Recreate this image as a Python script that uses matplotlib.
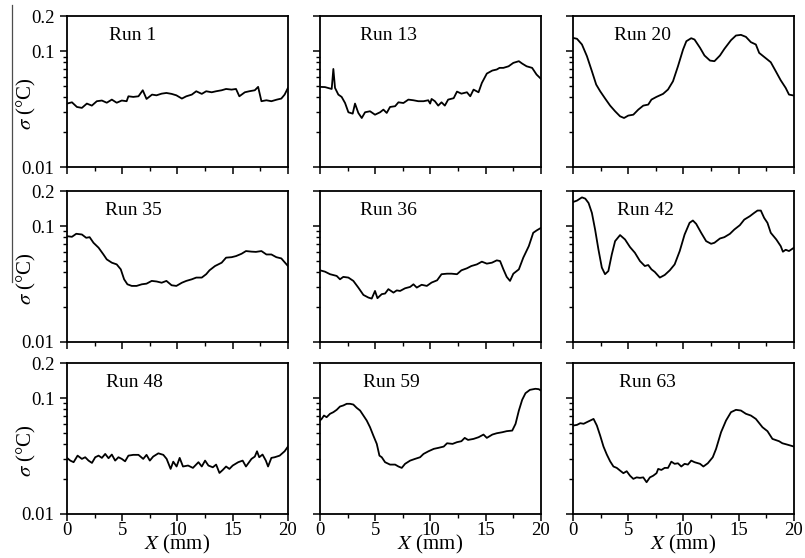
import matplotlib
matplotlib.use("Agg")
import matplotlib.pyplot as plt
from matplotlib.lines import Line2D
from matplotlib.ticker import FixedLocator, NullFormatter, FixedFormatter

plt.rcParams["font.family"] = ["Liberation Serif", "DejaVu Serif"]
plt.rcParams["mathtext.fontset"] = "stix"

# --- data (x in mm, sigma in degC) ---
run1_x = [0, 0.45, 0.9, 1.35, 1.8, 2.25, 2.7, 3.16, 3.6, 4.06, 4.5, 4.96, 5.4, 5.56, 6.0, 6.47,
          6.86, 7.2, 7.7, 8.1, 8.57, 9.0, 9.47, 9.9, 10.4, 10.8, 11.3, 11.7, 12.2, 12.6, 13.1,
          13.5, 14.0, 14.4, 14.9, 15.3, 15.6, 16.1, 16.5, 17.0, 17.3, 17.6, 18.05, 18.5, 19.0,
          19.4, 19.7, 20]
run1_y = [0.0353, 0.0362, 0.033, 0.0324, 0.0353, 0.0339, 0.037, 0.0375, 0.0359, 0.0382, 0.0359,
          0.0375, 0.037, 0.0408, 0.0403, 0.0408, 0.046, 0.0387, 0.0422, 0.0416, 0.043, 0.0436,
          0.0428, 0.0416, 0.039, 0.0408, 0.0422, 0.0451, 0.0428, 0.0451, 0.0442, 0.0451, 0.046,
          0.0472, 0.0466, 0.0472, 0.0408, 0.0442, 0.0451, 0.046, 0.0492, 0.037, 0.0377, 0.037,
          0.0382, 0.039, 0.0422, 0.0482]

run13_x = [0, 0.45, 1.06, 1.21, 1.36, 1.66, 1.96, 2.27, 2.57, 2.96, 3.17, 3.47, 3.78, 4.08, 4.53,
           4.98, 5.44, 5.74, 6.04, 6.34, 6.8, 7.1, 7.55, 8.0, 8.46, 8.9, 9.37, 9.8, 9.97, 10.1,
           10.4, 10.7, 11.0, 11.3, 11.6, 12.1, 12.4, 12.8, 13.3, 13.6, 13.9, 14.35, 14.65, 15.1,
           15.6, 16.0, 16.25, 16.6, 17.07, 17.5, 18.0, 18.3, 18.7, 19.2, 19.6, 20]
run13_y = [0.0492, 0.049, 0.0472, 0.0703, 0.0482, 0.0422, 0.0403, 0.0357, 0.0297, 0.0289, 0.0353,
           0.0293, 0.0265, 0.0297, 0.0303, 0.0283, 0.0297, 0.0313, 0.0293, 0.033, 0.0335, 0.0362,
           0.0357, 0.0382, 0.0377, 0.037, 0.037, 0.0377, 0.0353, 0.0387, 0.037, 0.0339, 0.0362,
           0.0339, 0.0382, 0.0393, 0.0448, 0.043, 0.0442, 0.0408, 0.0466, 0.0442, 0.0532, 0.0641,
           0.0681, 0.0695, 0.0718, 0.0718, 0.0741, 0.0793, 0.082, 0.0782, 0.0741, 0.0718, 0.0629,
           0.0577]

run20_x = [0, 0.36, 0.81, 1.26, 1.71, 2.1, 2.46, 2.91, 3.36, 3.81, 4.26, 4.62, 5.0, 5.46, 5.91,
           6.36, 6.81, 7.1, 7.55, 8.15, 8.6, 9.05, 9.5, 9.96, 10.26, 10.7, 11.0, 11.5, 11.9, 12.4,
           12.8, 13.3, 13.7, 14.3, 14.75, 15.2, 15.65, 16.1, 16.55, 16.85, 17.3, 17.6, 17.9, 18.35,
           18.8, 19.25, 19.55, 20]
run20_y = [0.1303, 0.128, 0.1143, 0.0906, 0.0672, 0.0515, 0.0451, 0.039, 0.0339, 0.0303, 0.0274,
           0.0265, 0.0278, 0.0283, 0.0313, 0.0339, 0.0346, 0.0382, 0.0403, 0.0428, 0.0467, 0.055,
           0.0741, 0.1033, 0.122, 0.1295, 0.1261, 0.1069, 0.0918, 0.083, 0.082, 0.0918, 0.1047,
           0.1245, 0.1366, 0.1384, 0.133, 0.1197, 0.1143, 0.0967, 0.0893, 0.0847, 0.0803, 0.0672,
           0.0561, 0.0482, 0.0422, 0.0414]

run35_x = [0, 0.45, 0.84, 1.35, 1.74, 2.05, 2.4, 2.86, 3.3, 3.6, 4.06, 4.5, 4.87, 5.17, 5.47,
           5.86, 6.3, 6.77, 7.2, 7.67, 8.12, 8.57, 9.0, 9.47, 9.9, 10.4, 10.8, 11.3, 11.7, 12.2,
           12.6, 12.9, 13.4, 14.0, 14.4, 14.9, 15.3, 15.8, 16.2, 16.7, 17.1, 17.6, 18.05, 18.5,
           18.95, 19.4, 20]
run35_y = [0.082, 0.081, 0.086, 0.0848, 0.0794, 0.0804, 0.0719, 0.0652, 0.057, 0.0517, 0.0484,
           0.0468, 0.0424, 0.0348, 0.0315, 0.0305, 0.0305, 0.0315, 0.0319, 0.0337, 0.0333, 0.0325,
           0.0337, 0.0309, 0.0305, 0.0325, 0.0337, 0.0348, 0.036, 0.036, 0.0385, 0.0416, 0.0453,
           0.0484, 0.0535, 0.054, 0.0552, 0.0578, 0.061, 0.0603, 0.06, 0.061, 0.057, 0.057, 0.054,
           0.0527, 0.0453]

run36_x = [0, 0.45, 0.91, 1.51, 1.81, 2.11, 2.57, 3.02, 3.47, 3.93, 4.38, 4.68, 4.98, 5.2, 5.59,
           5.89, 6.19, 6.65, 6.95, 7.25, 7.7, 8.16, 8.46, 8.76, 9.2, 9.67, 10.1, 10.6, 11.0, 11.5,
           11.9, 12.4, 12.8, 13.3, 13.7, 14.2, 14.65, 15.1, 15.56, 16.0, 16.3, 16.6, 16.9, 17.2,
           17.5, 18.0, 18.4, 18.9, 19.3, 19.6, 20]
run36_y = [0.0416, 0.0405, 0.0385, 0.0372, 0.0348, 0.0365, 0.036, 0.0337, 0.0295, 0.0255, 0.0242,
           0.0237, 0.0276, 0.0239, 0.0259, 0.0262, 0.0286, 0.0267, 0.0279, 0.0276, 0.0291, 0.0299,
           0.0315, 0.0295, 0.0312, 0.0305, 0.0326, 0.0341, 0.0385, 0.0389, 0.0389, 0.0385, 0.0416,
           0.0433, 0.0453, 0.0468, 0.0494, 0.0475, 0.0484, 0.0507, 0.05, 0.0424, 0.0365, 0.0337,
           0.0389, 0.0424, 0.0535, 0.0673, 0.0877, 0.0918, 0.0967]

run42_x = [0, 0.36, 0.81, 1.11, 1.41, 1.71, 2.0, 2.3, 2.61, 2.9, 3.2, 3.51, 3.81, 4.26, 4.71,
           5.16, 5.6, 6.06, 6.5, 6.81, 7.1, 7.4, 7.86, 8.3, 8.76, 9.2, 9.66, 10.1, 10.55, 10.85,
           11.15, 11.6, 12.05, 12.5, 12.8, 13.3, 13.7, 14.2, 14.6, 15.1, 15.5, 16.0, 16.4, 16.7,
           17.0, 17.3, 17.6, 17.9, 18.4, 18.8, 19.0, 19.25, 19.55, 20]
run42_y = [0.1618, 0.1663, 0.1774, 0.173, 0.1585, 0.1303, 0.0936, 0.0631, 0.0439, 0.0385, 0.041,
           0.057, 0.0743, 0.0838, 0.0768, 0.066, 0.059, 0.05, 0.0453, 0.0462, 0.0424, 0.0403,
           0.036, 0.0379, 0.0416, 0.0468, 0.061, 0.0847, 0.1069, 0.112, 0.1047, 0.0877, 0.0743,
           0.0705, 0.0719, 0.0783, 0.0804, 0.0859, 0.0936, 0.102, 0.114, 0.1219, 0.1303, 0.1365,
           0.1365, 0.118, 0.1069, 0.0877, 0.0768, 0.0673, 0.0602, 0.0626, 0.061, 0.0652]

run48_x = [0, 0.3, 0.6, 0.96, 1.35, 1.65, 1.95, 2.26, 2.56, 2.86, 3.16, 3.46, 3.76, 4.06, 4.36,
           4.66, 4.96, 5.26, 5.56, 6.0, 6.47, 6.9, 7.2, 7.5, 7.8, 8.27, 8.72, 9.02, 9.38, 9.62,
           9.92, 10.2, 10.5, 10.96, 11.4, 11.9, 12.2, 12.5, 12.8, 13.2, 13.5, 13.8, 14.1, 14.4,
           14.7, 15.0, 15.5, 15.9, 16.2, 16.7, 17.0, 17.2, 17.4, 17.7, 18.0, 18.2, 18.5, 18.8,
           19.25, 19.7, 20]
run48_y = [0.0305, 0.0289, 0.028, 0.0319, 0.0299, 0.0309, 0.0289, 0.0276, 0.0309, 0.0319, 0.0305,
           0.033, 0.0303, 0.0326, 0.0289, 0.0309, 0.0299, 0.0285, 0.0319, 0.0324, 0.0324, 0.0299,
           0.0324, 0.0289, 0.0313, 0.0334, 0.0324, 0.0299, 0.0245, 0.0283, 0.0257, 0.0305, 0.0257,
           0.0262, 0.025, 0.028, 0.0257, 0.0289, 0.0262, 0.0253, 0.0267, 0.0226, 0.024, 0.0257,
           0.0245, 0.0262, 0.028, 0.0289, 0.0257, 0.0299, 0.0313, 0.0348, 0.0309, 0.0326, 0.0289,
           0.0257, 0.0305, 0.0309, 0.0319, 0.0348, 0.0382]

run59_x = [0, 0.15, 0.36, 0.6, 0.91, 1.21, 1.51, 1.81, 2.11, 2.42, 2.72, 3.02, 3.32, 3.63, 3.93,
           4.23, 4.53, 4.83, 5.14, 5.38, 5.59, 5.89, 6.34, 6.8, 7.1, 7.4, 7.7, 8.16, 8.6, 9.06,
           9.37, 9.82, 10.3, 10.7, 11.2, 11.5, 12.0, 12.4, 12.8, 13.1, 13.4, 13.9, 14.35, 14.8,
           15.1, 15.6, 16.0, 16.5, 16.9, 17.4, 17.7, 18.0, 18.3, 18.6, 19.0, 19.5, 19.8, 20]
run59_y = [0.0641, 0.0662, 0.0708, 0.0685, 0.0733, 0.0757, 0.0793, 0.0847, 0.0865, 0.0894, 0.0894,
           0.0881, 0.0825, 0.0782, 0.0708, 0.0641, 0.0561, 0.0475, 0.0403, 0.0319, 0.0309, 0.028,
           0.0267, 0.0267, 0.0257, 0.025, 0.0271, 0.0289, 0.0299, 0.0309, 0.033, 0.0348, 0.0365,
           0.0372, 0.0382, 0.0408, 0.0403, 0.0417, 0.0425, 0.0454, 0.0436, 0.0445, 0.046, 0.0485,
           0.0454, 0.0485, 0.0498, 0.0508, 0.0519, 0.0525, 0.06, 0.0782, 0.0968, 0.1104, 0.118,
           0.1205, 0.1196, 0.1164]

run63_x = [0, 0.36, 0.66, 0.96, 1.26, 1.56, 1.86, 2.16, 2.46, 2.76, 3.06, 3.36, 3.66, 3.96, 4.26,
           4.56, 4.86, 5.16, 5.46, 5.76, 6.06, 6.36, 6.66, 6.96, 7.26, 7.56, 7.71, 8.0, 8.3, 8.6,
           8.9, 9.2, 9.5, 9.8, 10.1, 10.4, 10.7, 11.0, 11.5, 11.8, 12.2, 12.65, 12.95, 13.4,
           13.85, 14.3, 14.75, 15.2, 15.65, 16.1, 16.55, 17.15, 17.6, 18.05, 18.65, 18.95, 19.4, 20]
run63_y = [0.058, 0.0588, 0.0608, 0.0601, 0.0621, 0.0641, 0.0662, 0.058, 0.0475, 0.0382, 0.0326,
           0.0285, 0.0257, 0.025, 0.0237, 0.0225, 0.0234, 0.0214, 0.0201, 0.0207, 0.0205, 0.0207,
           0.0188, 0.0207, 0.0214, 0.0225, 0.0245, 0.024, 0.025, 0.025, 0.0283, 0.0271, 0.0274,
           0.0257, 0.0271, 0.0267, 0.0289, 0.028, 0.0271, 0.0257, 0.0274, 0.0309, 0.0365, 0.0508,
           0.0641, 0.0757, 0.0793, 0.0782, 0.0733, 0.0708, 0.0662, 0.0561, 0.0519, 0.0445, 0.0425,
           0.0408, 0.0397, 0.0382]

run_names = ["Run 1", "Run 13", "Run 20", "Run 35", "Run 36", "Run 42", "Run 48", "Run 59", "Run 63"]
run_xs = [run1_x, run13_x, run20_x, run35_x, run36_x, run42_x, run48_x, run59_x, run63_x]
run_ys = [run1_y, run13_y, run20_y, run35_y, run36_y, run42_y, run48_y, run59_y, run63_y]

x_ticks = [0, 5, 10, 15, 20]
y_ticks = [0.01, 0.1, 0.2]
y_ticklabels = ["0.01", "0.1", "0.2"]

# layout (figure fractions)
col_left = [0.0832, 0.3975, 0.7118]
row_bottom = [0.7007, 0.3871, 0.0789]
ax_w, ax_h = 0.2745, 0.2700
label_x = [0.19, 0.18, 0.185, 0.17, 0.18, 0.20, 0.176, 0.195, 0.21]

fig = plt.figure(figsize=(8.05, 5.58), dpi=100)

for i, name in enumerate(run_names):
    r, c = divmod(i, 3)
    ax = fig.add_axes([col_left[c], row_bottom[r], ax_w, ax_h])
    ax.plot(run_xs[i], run_ys[i], color="black", lw=1.3)
    ax.set_yscale("log")
    ax.set_xlim(0, 20)
    ax.set_ylim(0.01, 0.2)

    ax.yaxis.set_major_locator(FixedLocator(y_ticks))
    ax.yaxis.set_minor_locator(FixedLocator([0.02, 0.03, 0.04, 0.05, 0.06, 0.07, 0.08, 0.09]))
    ax.yaxis.set_minor_formatter(NullFormatter())
    ax.xaxis.set_major_locator(FixedLocator(x_ticks))
    ax.xaxis.set_minor_locator(FixedLocator([2.5, 7.5, 12.5, 17.5]))

    ax.tick_params(which="major", direction="out", length=5, width=1.1, labelsize=13.5)
    ax.tick_params(which="minor", direction="out", length=3, width=1.0)
    ax.tick_params(axis="y", which="major", pad=4)
    ax.tick_params(axis="x", which="major", pad=0.5)
    for sp in ax.spines.values():
        sp.set_linewidth(1.3)

    if c == 0:
        ax.yaxis.set_major_formatter(FixedFormatter(y_ticklabels))
        ax.set_ylabel(r"$\sigma$ (°C)", fontsize=15)
        ax.yaxis.set_label_coords(-0.13, 0.42)
    else:
        ax.set_yticklabels([])
    if r == 2:
        ax.set_xticklabels([str(t) for t in x_ticks])
        lbl = ax.set_xlabel(r"$X$ (mm)", fontsize=15)
        lbl.set_va("center")
        ax.xaxis.set_label_coords(0.5, -0.205)
    else:
        ax.set_xticklabels([])

    ax.text(label_x[i], 0.875, name, transform=ax.transAxes, fontsize=14, va="center", ha="left")

# thin vertical rule left of the upper y labels (present in the source image)
fig.add_artist(Line2D([12 / 805, 12 / 805], [1 - 5 / 558, 1 - 282 / 558],
                      transform=fig.transFigure, color="0.3", lw=0.9))

fig.savefig("out.png", dpi=100)
